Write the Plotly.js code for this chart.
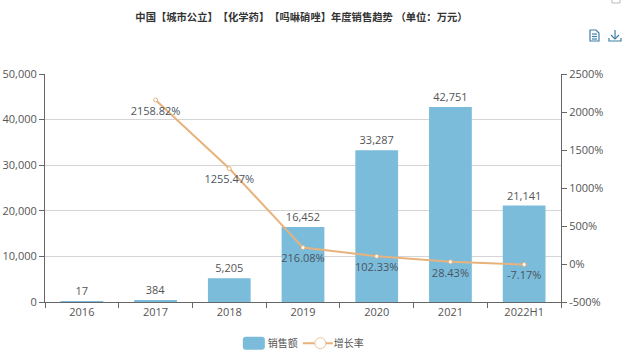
<!DOCTYPE html>
<html><head><meta charset="utf-8">
<script src="https://cdn.plot.ly/plotly-3.0.1.min.js"></script>
<style>html,body{margin:0;padding:0;background:#fff;overflow:hidden}#c{width:630px;height:356px}
.gtitle{text-spacing-trim:space-all}</style>
</head><body><div id="c"></div>
<script>
const years = ['2016','2017','2018','2019','2020','2021','2022H1'];
const sales = [17,384,5205,16452,33287,42751,21141];
const growthYears = ['2017','2018','2019','2020','2021','2022H1'];
const growth = [2158.82,1255.47,216.08,102.33,28.43,-7.17];
const growthLabels = ['2158.82%','1255.47%','216.08%','102.33%','28.43%','-7.17%'];
const titleText = '中国【城市公立】【化学药】【吗啉硝唑】年度销售趋势 （单位：万元）';
const FONT = '"Open Sans","Noto Sans CJK SC",sans-serif';
const barColor = '#7cbcdb', lineColor = '#e8b27d', textColor = '#555';

const traces = [
 {type:'bar',name:'销售额',x:years,y:sales,text:sales.map(v=>v.toLocaleString('en-US')),
  textposition:'outside',cliponaxis:false,textfont:{size:11,color:textColor,family:FONT},
  marker:{color:barColor},width:0.58,hoverinfo:'x+y'},
 {type:'scatter',mode:'lines+markers+text',name:'增长率',x:growthYears,y:growth,yaxis:'y2',
  text:growthLabels,textposition:'bottom center',cliponaxis:false,
  textfont:{size:11,color:'#4a5560',family:FONT},
  line:{color:lineColor,width:2},
  marker:{symbol:'circle',size:4,color:'#fff',line:{color:lineColor,width:1}}}
];
const axisLine = {showline:true,linecolor:'#666',linewidth:1,ticks:'outside',ticklen:5,tickcolor:'#666',
  tickfont:{size:11,color:textColor,family:FONT}};
const layout = {
 width:630,height:356,margin:{l:45,r:69,t:74,b:54,autoexpand:false},paper_bgcolor:'#fff',plot_bgcolor:'#fff',
 font:{family:FONT,color:textColor},
 title:{text:titleText,font:{size:10.3,color:'#333',family:FONT,weight:'bold'},x:0.4785,xanchor:'center',y:0.952,yanchor:'middle'},
 showlegend:true,
 legend:{orientation:'h',x:0.49,xanchor:'center',y:-0.117,yanchor:'top',font:{size:10,color:textColor,family:FONT},itemwidth:30,traceorder:'normal'},
 bargap:0.42,
 xaxis:Object.assign({type:'category',categoryorder:'array',categoryarray:years,showgrid:false,zeroline:false,tickson:'boundaries'},axisLine),
 yaxis:Object.assign({range:[0,50000],tickvals:[0,10000,20000,30000,40000,50000],tickformat:',d',showgrid:true,gridcolor:'#d5d5d5',gridwidth:1,zeroline:false},axisLine),
 yaxis2:Object.assign({overlaying:'y',side:'right',range:[-500,2500],tickvals:[-500,0,500,1000,1500,2000,2500],ticktext:['-500%','0%','500%','1000%','1500%','2000%','2500%'],showgrid:false,zeroline:false},axisLine)
};
function px(x){return (x-45)/516} function py(y){return (302-y)/228}
function pathOf(pts){return pts.map((p,i)=>(i?'L':'M')+px(p[0]).toFixed(4)+','+py(p[1]).toFixed(4)).join(' ')}
const iconLine={color:'#3f7ea6',width:1.2};
layout.shapes=[
 {type:'path',xref:'paper',yref:'paper',line:iconLine,path:pathOf([[590,30],[596,30],[599,33],[599,41],[590,41]])+' Z'},
 {type:'path',xref:'paper',yref:'paper',line:iconLine,path:pathOf([[592,34],[597,34]])},
 {type:'path',xref:'paper',yref:'paper',line:iconLine,path:pathOf([[592,36.5],[597,36.5]])},
 {type:'path',xref:'paper',yref:'paper',line:iconLine,path:pathOf([[592,39],[597,39]])},
 {type:'path',xref:'paper',yref:'paper',line:iconLine,path:pathOf([[615,30],[615,38]])},
 {type:'path',xref:'paper',yref:'paper',line:iconLine,path:pathOf([[611,35],[615,39],[619,35]])},
 {type:'path',xref:'paper',yref:'paper',line:iconLine,path:pathOf([[609,38],[609,41],[621,41],[621,38]])},
 {type:'path',xref:'paper',yref:'paper',line:{color:'#bbb',width:1},path:pathOf([[612,0],[612,3],[620,3],[620,0]])}
];
function nudge(el,dx,dy){ if(!el) return; el.setAttribute('transform','translate('+dx+','+(dy||0)+') '+(el.getAttribute('transform')||'')); }
Plotly.newPlot('c',traces,layout,{displayModeBar:false,responsive:false}).then(gd=>{
  // Reshape the native legend swatches and spacing to match the reference
  const items = gd.querySelectorAll('.legend .traces');
  const barPts = items[0].querySelector('.legendpoints');
  barPts.querySelectorAll('path').forEach(p=>{
    if(p.getAttribute('d') && p.getAttribute('d').length>0 && p.style.fill!=='none'){
      p.setAttribute('d','M-8,-6.5H8A3,3 0 0 1 11,-3.5V3.5A3,3 0 0 1 8,6.5H-8A3,3 0 0 1 -11,3.5V-3.5A3,3 0 0 1 -8,-6.5Z');
    }
  });
  nudge(barPts,11);
  nudge(items[0].querySelector('.legendtext'),5);
  const linePts = items[1].querySelector('.legendpoints');
  linePts.querySelectorAll('path.js-line').forEach(p=>{p.setAttribute('d','M7.5,0h25');p.style.stroke='#eec39a';p.style.strokeWidth='1.5px';});
  linePts.querySelectorAll('.scatterpts').forEach(p=>{
    p.setAttribute('d','M5.5,0A5.5,5.5 0 1 1 0,-5.5A5.5,5.5 0 0 1 5.5,0Z');p.style.stroke='#eec39a';
  });
  nudge(linePts,2.5);
  nudge(items[1].querySelector('.legendtext'),-4);
  // Growth labels sit a little lower under their markers in the reference
  gd.querySelectorAll('.scatterlayer .textpoint text').forEach(t=>nudge(t,0,3));
});
</script></body></html>
